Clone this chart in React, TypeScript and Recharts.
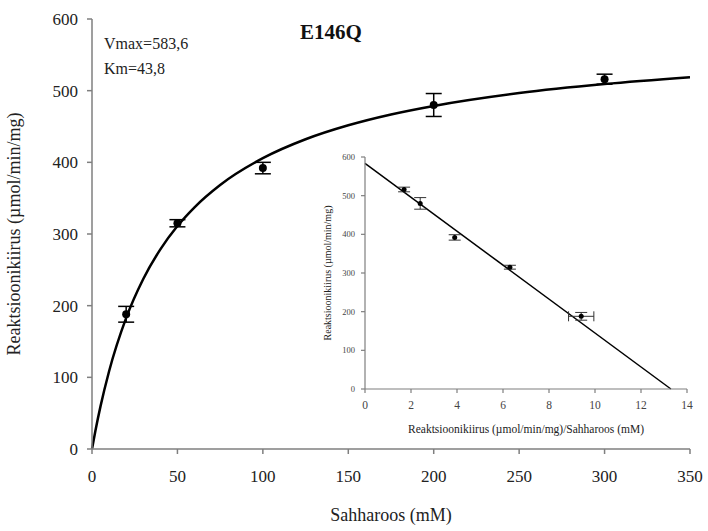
import { ComposedChart, Line, Scatter, ErrorBar, XAxis, YAxis } from 'recharts';

// Michaelis-Menten fit
const curveS = [0, 2, 5, 10, 20, 30, 40, 50, 60, 75, 100, 125, 150, 175, 200, 250, 300, 350];
const curveV = [0, 25.5, 59.8, 108.5, 182.9, 237.2, 278.6, 311.1, 337.3, 368.4, 405.8, 432.2, 451.7, 466.8, 478.7, 496.6, 509.2, 518.7];

// measured points
const sucrose = [20, 50, 100, 200, 300];
const rate = [188, 315, 392, 480, 516];
const rateErr = [11, 5, 8, 16, 7];

// Eadie-Hofstee inset
const insetX = [9.4, 6.3, 3.9, 2.4, 1.7];
const insetY = [188, 315, 392, 480, 516];
const insetYErr = [10, 5, 7, 15, 6];
const insetXErr = [0.55, 0, 0, 0, 0];
const fitX = [0, 13.3];
const fitY = [583.6, 0];

const mainTicksX = [0, 50, 100, 150, 200, 250, 300, 350];
const mainTicksY = [0, 100, 200, 300, 400, 500, 600];
const insetTicksX = [0, 2, 4, 6, 8, 10, 12, 14];
const insetTicksY = [0, 100, 200, 300, 400, 500, 600];

const curve = curveS.map((x, i) => ({ x, y: curveV[i] }));
const points = sucrose.map((x, i) => ({ x, y: rate[i], err: rateErr[i] }));
const insetPts = insetX.map((x, i) => ({ x, y: insetY[i], err: insetYErr[i], errX: insetXErr[i] }));
const fit = fitX.map((x, i) => ({ x, y: fitY[i] }));

const FONT = '"Liberation Serif", serif';
const AXIS = '#7f7f7f';

const Dot = (r: number) => (props: any) => <circle cx={props.cx} cy={props.cy} r={r} fill="#000" />;

// serif tick labels
const XTick = (size: number, dy: number, fill: string) => (p: any) => (
  <text x={p.x} y={p.y + dy} textAnchor="middle" fontSize={size} fill={fill} style={{ fontFamily: FONT }}>
    {p.payload.value}
  </text>
);
const YTick = (size: number, dx: number, fill: string) => (p: any) => (
  <text x={p.x - dx} y={p.y} dy="0.35em" textAnchor="end" fontSize={size} fill={fill} style={{ fontFamily: FONT }}>
    {p.payload.value}
  </text>
);

export default function App() {
  return (
    <div style={{ position: 'fixed', left: 0, top: 0, width: 708, height: 531, background: '#fff', fontFamily: FONT }}>
      <ComposedChart width={708} height={531} margin={{ top: 19, right: 18, bottom: 32, left: 32 }}>
        <XAxis
          type="number"
          dataKey="x"
          domain={[0, 350]}
          ticks={mainTicksX}
          stroke={AXIS}
          strokeWidth={1.5}
          tickSize={5}
          height={50}
          tick={XTick(17, 26, '#222')}
          label={{ value: 'Sahharoos (mM)', position: 'insideBottom', offset: -22, style: { fontSize: 18, fill: '#222', fontFamily: FONT } }}
        />
        <YAxis
          type="number"
          dataKey="y"
          domain={[0, 600]}
          ticks={mainTicksY}
          stroke={AXIS}
          strokeWidth={1.5}
          tickSize={5}
          width={60}
          tick={YTick(17, 7, '#222')}
          label={{ value: 'Reaktsioonikiirus (µmol/min/mg)', angle: -90, position: 'insideLeft', offset: -18, style: { fontSize: 18, fill: '#222', fontFamily: FONT, textAnchor: 'middle' } }}
        />
        <Line data={curve} dataKey="y" type="monotone" stroke="#000" strokeWidth={2.5} dot={false} isAnimationActive={false} />
        <Scatter data={points} dataKey="y" shape={Dot(4)} isAnimationActive={false}>
          <ErrorBar dataKey="err" direction="y" width={8} stroke="#000" strokeWidth={1.5} />
        </Scatter>
      </ComposedChart>

      <div style={{ position: 'absolute', left: 300, top: 140 }}>
        <ComposedChart width={400} height={310} margin={{ top: 17, right: 13, bottom: 41, left: 35 }}>
          <XAxis
            type="number"
            dataKey="x"
            domain={[0, 14]}
            ticks={insetTicksX}
            stroke={AXIS}
            strokeWidth={1.2}
            tickSize={4}
            height={20}
            tick={XTick(11.5, 14, '#444')}
            label={{ value: 'Reaktsioonikiirus (µmol/min/mg)/Sahharoos (mM)', position: 'insideBottom', offset: -24, style: { fontSize: 11.5, fill: '#222', fontFamily: FONT } }}
          />
          <YAxis
            type="number"
            dataKey="y"
            domain={[0, 600]}
            ticks={insetTicksY}
            stroke={AXIS}
            strokeWidth={1.2}
            tickSize={4}
            width={30}
            tick={YTick(8.5, 4, '#444')}
            label={{ value: 'Reaktsioonikiirus (µmol/min/mg)', angle: -90, position: 'insideLeft', offset: -8, style: { fontSize: 10, fill: '#222', fontFamily: FONT, textAnchor: 'middle' } }}
          />
          <Line data={fit} dataKey="y" type="linear" stroke="#000" strokeWidth={1.5} dot={false} isAnimationActive={false} />
          <Scatter data={insetPts} dataKey="y" shape={Dot(2.5)} isAnimationActive={false}>
            <ErrorBar dataKey="err" direction="y" width={6} stroke="#333" strokeWidth={1} />
            <ErrorBar dataKey="errX" direction="x" width={5} stroke="#333" strokeWidth={1} />
          </Scatter>
        </ComposedChart>
      </div>

      <div style={{ position: 'absolute', left: 300, top: 20, fontSize: 21, fontWeight: 'bold', color: '#111' }}>E146Q</div>
      <div style={{ position: 'absolute', left: 104, top: 31, fontSize: 16, lineHeight: '25px', color: '#222' }}>
        Vmax=583,6
        <br />
        Km=43,8
      </div>
    </div>
  );
}
